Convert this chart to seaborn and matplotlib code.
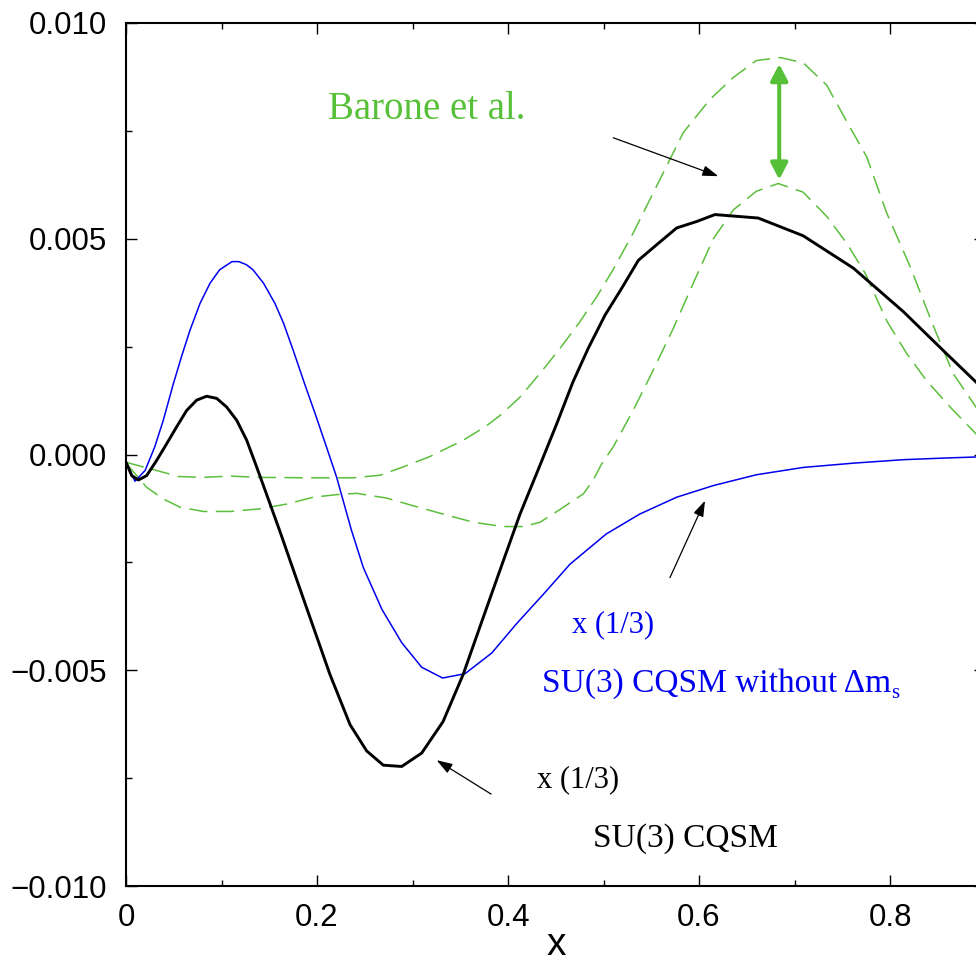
import matplotlib
matplotlib.use("Agg")
import matplotlib.pyplot as plt
import seaborn as sns
import numpy as np
from matplotlib.ticker import FixedLocator, FixedFormatter, MultipleLocator

# ---------------- data ----------------
black_x = [0.000, 0.006, 0.013, 0.0216, 0.032, 0.0426, 0.053, 0.0635, 0.074, 0.0845,
           0.095, 0.1054, 0.116, 0.1264, 0.137, 0.147, 0.161, 0.175, 0.190, 0.2136,
           0.2346, 0.252, 0.2694, 0.2887, 0.3096, 0.332, 0.353, 0.374, 0.395, 0.4126,
           0.432, 0.451, 0.468, 0.484, 0.5016, 0.519, 0.5365, 0.5556, 0.5766, 0.5976,
           0.6167, 0.662, 0.709, 0.7616, 0.814, 0.859, 0.89, 0.90]
black_y = [-0.00018, -0.00049, -0.00059, -0.00049, -0.00014, 0.00025, 0.00064, 0.00102, 0.00126, 0.00135,
           0.00130, 0.00110, 0.00079, 0.00033, -0.00030, -0.00091, -0.00177, -0.00266, -0.00361, -0.00510,
           -0.00626, -0.00687, -0.00720, -0.00723, -0.00692, -0.00619, -0.00510, -0.00378, -0.00247, -0.00138,
           -0.00033, 0.00071, 0.00168, 0.00246, 0.00323, 0.00385, 0.00450, 0.00486, 0.00525, 0.00540,
           0.00556, 0.00548, 0.00507, 0.00432, 0.00331, 0.00234, 0.00168, 0.00147]

blue_x = [0.000, 0.0094, 0.020, 0.030, 0.039, 0.0496, 0.058, 0.067, 0.0775, 0.088,
          0.098, 0.111, 0.118, 0.126, 0.133, 0.144, 0.156, 0.165, 0.175, 0.187,
          0.198, 0.210, 0.2206, 0.236, 0.2485, 0.268, 0.2887, 0.3096, 0.3315, 0.355,
          0.383, 0.409, 0.437, 0.465, 0.503, 0.538, 0.5766, 0.615, 0.660, 0.709,
          0.762, 0.814, 0.860, 0.900]
blue_y = [-0.00018, -0.00062, -0.00037, 0.00017, 0.00079, 0.00164, 0.00226, 0.00288, 0.00350, 0.00397,
          0.00428, 0.00447, 0.00447, 0.00440, 0.00428, 0.00397, 0.00350, 0.00304, 0.00242, 0.00164,
          0.00095, 0.00017, -0.00053, -0.00175, -0.00262, -0.00359, -0.00436, -0.00493, -0.00518, -0.00508,
          -0.00460, -0.00392, -0.00324, -0.00254, -0.00184, -0.00138, -0.00099, -0.00072, -0.00047, -0.00030,
          -0.00020, -0.00012, -0.00008, -0.00005]

barone_up_x = [0.000, 0.032, 0.055, 0.081, 0.109, 0.140, 0.189, 0.238, 0.266, 0.2887,
               0.318, 0.353, 0.376, 0.392, 0.4126, 0.4335, 0.4545, 0.4754, 0.493, 0.510,
               0.531, 0.5556, 0.5835, 0.6115, 0.636, 0.660, 0.6848, 0.709, 0.7337, 0.7546,
               0.7756, 0.7965, 0.821, 0.845, 0.866, 0.890, 0.900]
barone_up_y = [-0.00018, -0.00037, -0.00051, -0.00053, -0.00050, -0.00053, -0.00054, -0.00054, -0.00048, -0.00030,
               -0.00005, 0.00033, 0.00064, 0.00091, 0.00133, 0.00188, 0.00246, 0.00308, 0.00366, 0.00428,
               0.00513, 0.00622, 0.00746, 0.00823, 0.00874, 0.00913, 0.00920, 0.00908, 0.00856, 0.00772,
               0.00690, 0.00560, 0.00436, 0.00300, 0.00188, 0.00110, 0.00078]

barone_lo_x = [0.000, 0.0216, 0.039, 0.0565, 0.081, 0.109, 0.140, 0.168, 0.196, 0.2206,
               0.2415, 0.273, 0.301, 0.332, 0.3637, 0.395, 0.416, 0.4335, 0.454, 0.479,
               0.489, 0.498, 0.510, 0.531, 0.552, 0.573, 0.594, 0.615, 0.636, 0.660,
               0.683, 0.709, 0.7337, 0.7546, 0.774, 0.7965, 0.8175, 0.838, 0.863, 0.890, 0.900]
barone_lo_y = [-0.00020, -0.00076, -0.00103, -0.00122, -0.00132, -0.00132, -0.00126, -0.00115, -0.00099, -0.00093,
               -0.00090, -0.00101, -0.00119, -0.00138, -0.00157, -0.00167, -0.00167, -0.00157, -0.00128, -0.00091,
               -0.00060, -0.00022, 0.00017, 0.00102, 0.00195, 0.00292, 0.00397, 0.00500, 0.00567, 0.00610,
               0.00628, 0.00608, 0.00552, 0.00490, 0.00420, 0.00310, 0.00234, 0.00172, 0.00110, 0.00048, 0.00026]

x_ticks = [0.0, 0.2, 0.4, 0.6, 0.8]
x_ticklabels = ["0", "0.2", "0.4", "0.6", "0.8"]
y_ticks = [-0.010, -0.005, 0.000, 0.005, 0.010]
y_ticklabels = ["\u22120.010", "\u22120.005", "0.000", "0.005", "0.010"]

# ---------------- style ----------------
sns.set_style("ticks")
plt.rcParams["font.family"] = ["Liberation Sans", "DejaVu Sans"]
plt.rcParams["axes.linewidth"] = 1.5
for k in ["text.color", "xtick.color", "ytick.color", "axes.labelcolor", "axes.edgecolor",
          "xtick.labelcolor", "ytick.labelcolor"]:
    plt.rcParams[k] = "black"

GREEN = "#57c039"
GREEN_LINE = "#5cbf3c"
BLUE = "#0000ee"
SERIF = ["Liberation Serif", "DejaVu Serif"]

fig = plt.figure(figsize=(9.76, 9.66), dpi=100)
ax = fig.add_axes([126 / 976, 80 / 966, 859.5 / 976, 863 / 966])

sns.lineplot(x=barone_up_x, y=barone_up_y, ax=ax, color=GREEN_LINE, lw=1.1,
             linestyle=(0, (12, 5.5)), sort=False, estimator=None)
sns.lineplot(x=barone_lo_x, y=barone_lo_y, ax=ax, color=GREEN_LINE, lw=1.1,
             linestyle=(0, (12, 5.5)), sort=False, estimator=None)
sns.lineplot(x=blue_x, y=blue_y, ax=ax, color=BLUE, lw=1.1, sort=False, estimator=None)
sns.lineplot(x=black_x, y=black_y, ax=ax, color="black", lw=2.1, sort=False, estimator=None)

ax.set_xlim(0, 0.9)
ax.set_ylim(-0.010, 0.010)

ax.xaxis.set_major_locator(FixedLocator(x_ticks))
ax.xaxis.set_major_formatter(FixedFormatter(x_ticklabels))
ax.xaxis.set_minor_locator(MultipleLocator(0.1))
ax.yaxis.set_major_locator(FixedLocator(y_ticks))
ax.yaxis.set_major_formatter(FixedFormatter(y_ticklabels))
ax.yaxis.set_minor_locator(MultipleLocator(0.0025))

ax.tick_params(which="both", direction="in", top=True, right=True, width=1.0,
               color="black", labelcolor="black")
ax.tick_params(which="major", length=7.8)
ax.tick_params(which="minor", length=4.3)
ax.tick_params(axis="y", which="major", labelsize=22.5, pad=14.0)
ax.tick_params(axis="x", which="major", labelsize=22.5, pad=12.0)
for s in ax.spines.values():
    s.set_visible(True)
    s.set_color("black")
    s.set_linewidth(1.5)

ax.set_xlabel("x", fontsize=28, color="black")
ax.set_ylabel("")
ax.xaxis.set_label_coords((556 - 126) / 859.5, -0.0800)
ax.xaxis.label.set_verticalalignment("baseline")

# ---------------- annotations ----------------
ax.text(0.2115, 0.007767, "Barone et al.", color=GREEN, fontsize=28, family=SERIF,
        ha="left", va="baseline")
ax.text(0.4667, -0.004109, "x (1/3)", color=BLUE, fontsize=22, family=SERIF,
        ha="left", va="baseline")
t_blue = ax.text(0.4353, -0.005488, "SU(3) CQSM without \u0394m", color=BLUE, fontsize=24,
                 family=SERIF, ha="left", va="baseline")
ax.annotate("s", xy=(1.0, 0.0), xycoords=t_blue, xytext=(0.5, 0.5), textcoords="offset points",
            color=BLUE, fontsize=15, family=SERIF, ha="left", va="baseline")
ax.text(0.4302, -0.007721, "x (1/3)", color="black", fontsize=22, family=SERIF,
        ha="left", va="baseline")
ax.text(0.489, -0.009093, "SU(3) CQSM", color="black", fontsize=24, family=SERIF,
        ha="left", va="baseline")

thin = dict(arrowstyle="-|>,head_length=0.6,head_width=0.2", color="black", lw=0.9,
            shrinkA=0, shrinkB=0, mutation_scale=16)
ax.annotate("", xy=(0.6202, 0.00645), xytext=(0.5103, 0.00734), arrowprops=thin)
ax.annotate("", xy=(0.6063, -0.00107), xytext=(0.5696, -0.002853), arrowprops=thin)
ax.annotate("", xy=(0.3253, -0.007084), xytext=(0.3823, -0.007870), arrowprops=thin)

ax.annotate("", xy=(0.684, 0.00905), xytext=(0.684, 0.00637),
            arrowprops=dict(arrowstyle="<|-|>,head_length=0.5,head_width=0.26", color=GREEN,
                            lw=2.9, shrinkA=0, shrinkB=0, mutation_scale=20))

fig.savefig("out.png", dpi=100)
